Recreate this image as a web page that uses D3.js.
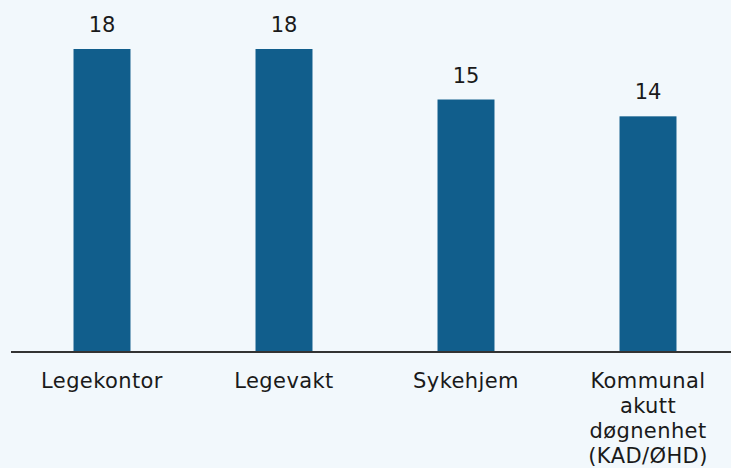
<!DOCTYPE html>
<html>
<head>
<meta charset="utf-8">
<script src="https://cdn.jsdelivr.net/npm/d3@7"></script>
<style>
  html, body { margin: 0; padding: 0; background: #f2f8fc; }
  svg { display: block; }
  text { font-family: "DejaVu Sans", sans-serif; fill: #1a1a1a; }
</style>
</head>
<body>
<svg id="chart" width="731" height="468"></svg>
<script>
// Antall per tjenestested
const categories = ["Legekontor", "Legevakt", "Sykehjem", "Kommunal akutt døgnenhet (KAD/ØHD)"];
const labelLines = [["Legekontor"], ["Legevakt"], ["Sykehjem"], ["Kommunal", "akutt", "døgnenhet", "(KAD/ØHD)"]];
const values = [18, 18, 15, 14];

const W = 731, H = 468;
const baseY = 352;
const svg = d3.select("#chart");

const x = d3.scaleBand()
  .domain(categories)
  .range([11, 739])
  .paddingInner(0.687)
  .paddingOuter(0.3435);

const y = d3.scaleLinear()
  .domain([0, 18])
  .range([baseY, 49]);

svg.selectAll("rect.bar")
  .data(values)
  .join("rect")
  .attr("class", "bar")
  .attr("x", (d, i) => x(categories[i]))
  .attr("y", d => y(d))
  .attr("width", x.bandwidth())
  .attr("height", d => baseY - y(d))
  .attr("fill", "#115e8c");

svg.selectAll("text.value")
  .data(values)
  .join("text")
  .attr("class", "value")
  .attr("x", (d, i) => x(categories[i]) + x.bandwidth() / 2)
  .attr("y", d => y(d) - 17)
  .attr("text-anchor", "middle")
  .attr("font-size", 21)
  .text(d => d);

// baseline
svg.append("line")
  .attr("x1", 11).attr("x2", W)
  .attr("y1", baseY).attr("y2", baseY)
  .attr("stroke", "#333")
  .attr("stroke-width", 2);

const labels = svg.selectAll("text.cat")
  .data(categories)
  .join("text")
  .attr("class", "cat")
  .attr("x", d => x(d) + x.bandwidth() / 2)
  .attr("y", 388)
  .attr("text-anchor", "middle")
  .attr("font-size", 21)
  .attr("letter-spacing", 0.4);

labels.each(function(d, i) {
  d3.select(this).selectAll("tspan")
    .data(labelLines[i])
    .join("tspan")
    .attr("x", x(d) + x.bandwidth() / 2)
    .attr("dy", (t, j) => j === 0 ? 0 : 25)
    .text(t => t);
});
</script>
</body>
</html>
